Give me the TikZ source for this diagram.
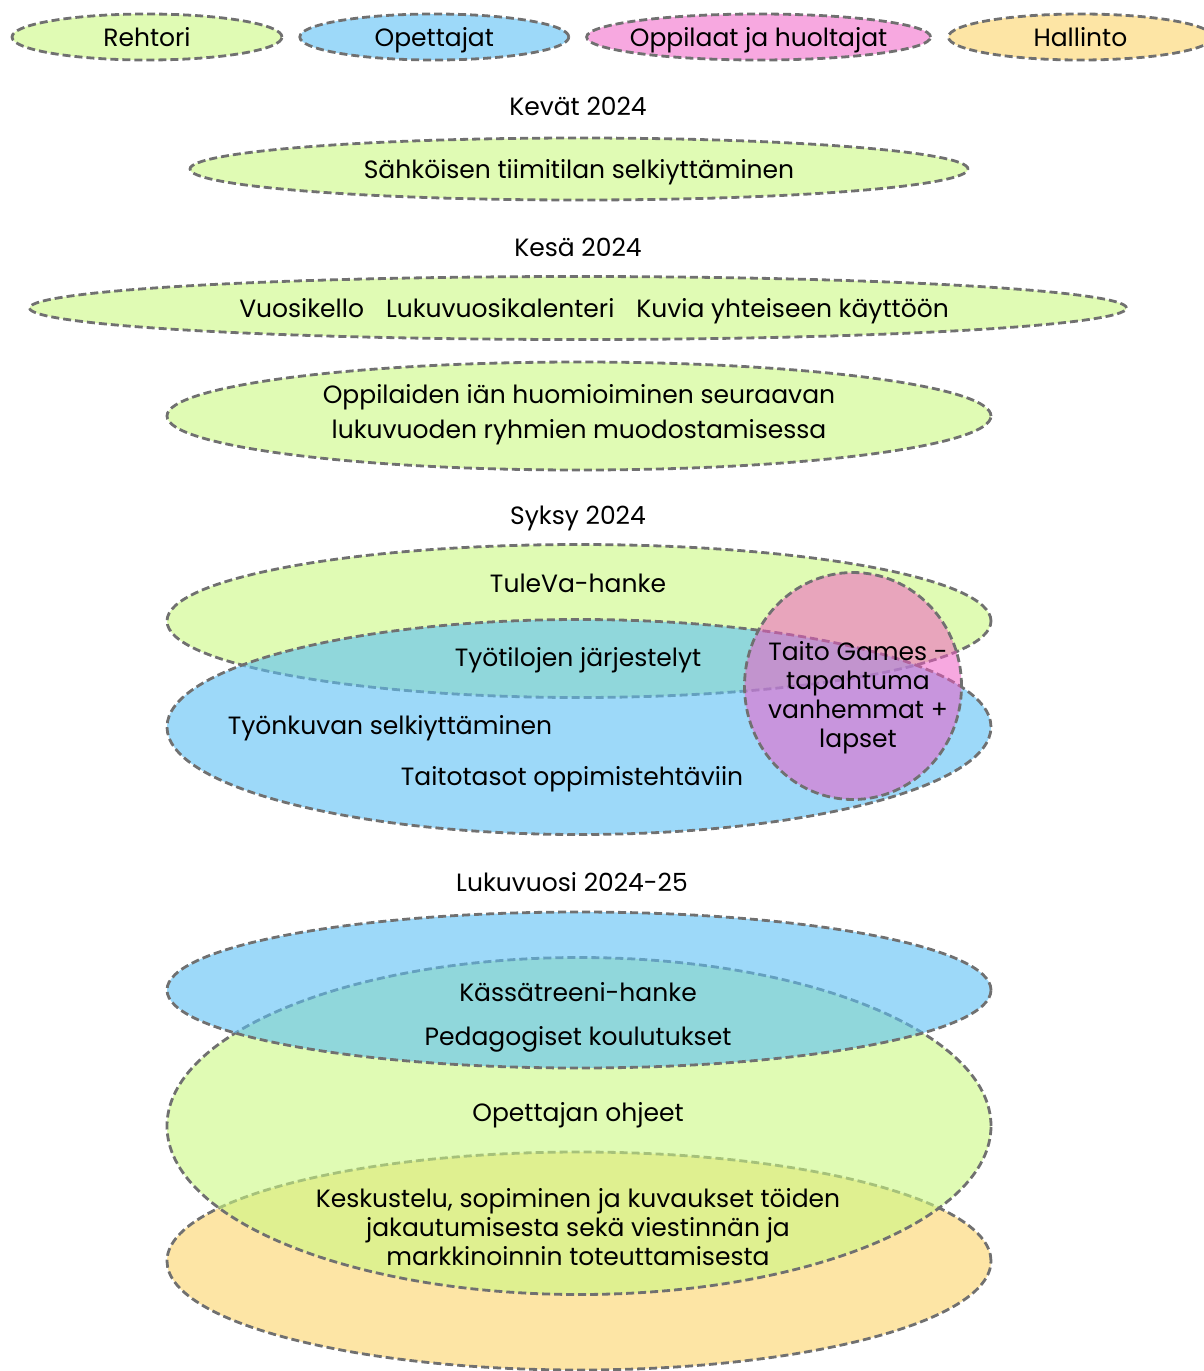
\documentclass[tikz,border=0pt]{standalone}
\usepackage{fontspec}
\setmainfont{Poppins}
\usepackage{tikz}
\usetikzlibrary{positioning}
\usetikzlibrary{shapes}
\definecolor{ovalgray}{HTML}{707070}
\definecolor{rehtorigreen}{HTML}{CBF882}
\definecolor{opeblue}{HTML}{5CC0F5}
\definecolor{oppipink}{HTML}{F058C4}
\definecolor{hallyellow}{HTML}{FDE5A5}
\tikzstyle{oval}=[ellipse,inner sep=0pt,draw=ovalgray,line width=2.8pt,dash pattern=on 8pt off 4pt,text opacity=1,font=\fontsize{25}{29}\selectfont,text height=22pt,text depth=3pt]
\tikzstyle{rehtori}=[oval,fill=rehtorigreen,fill opacity=0.6]
\tikzstyle{ope}=[oval,fill=opeblue,fill opacity=0.6]
\tikzstyle{oppi}=[oval,fill=oppipink,fill opacity=0.52]
\tikzstyle{hall}=[oval,fill=hallyellow]
\tikzstyle{legend}=[inner xsep=-25pt,minimum height=46pt]
\tikzstyle{lbl}=[inner sep=0pt,align=center,font=\fontsize{25}{29}\selectfont,text height=22pt,text depth=3pt]
\tikzstyle{lines}=[inner sep=0pt,align=center]

\begin{document}
\begin{tikzpicture}[x=1pt,y=-1pt]
				\useasboundingbox (0,0) rectangle (1203,1371);
				
				% roolit
				\node [rehtori, legend, minimum width=270pt] (rehtori) at (147,37) {Rehtori};
				\node [ope, legend, minimum width=269pt, right=15pt of rehtori] (ope) {Opettajat};
				\node [oppi, legend, minimum width=344pt, right=15pt of ope] (oppi) {Oppilaat ja huoltajat};
				\node [hall, legend, minimum width=264pt, right=15pt of oppi] (hall) {Hallinto};
				
				% kevat ja kesa
				\node [lbl] (kevat) at (578,106) {Kevät 2024};
				\node [rehtori, minimum width=778pt, minimum height=62pt] (tiimi) at (579,169) {Sähköisen tiimitilan selkiyttäminen};
				\node [lbl] (kesa) at (578,247) {Kesä 2024};
				\node [rehtori, minimum width=1097pt, minimum height=63pt] (vuosi) at (578,308) {};
				\node [lbl] (vuosit) at (594,308) {Vuosikello\hspace{22pt}Lukuvuosikalenteri\hspace{22pt}Kuvia yhteiseen käyttöön};
				\node [rehtori, minimum width=824pt, minimum height=108pt] (ika) at (579,416) {};
				\node [lines, font=\fontsize{25}{35}\selectfont] (ikat) at (579,415) {Oppilaiden iän huomioiminen seuraavan\\lukuvuoden ryhmien muodostamisessa};
				
				% syksy
				\node [lbl] (syksy) at (578,515) {Syksy 2024};
				\node [rehtori, minimum width=824pt, minimum height=153pt] (tuleva) at (579,621) {};
				\node [ope, minimum width=824pt, minimum height=215pt] (tyo) at (579,727) {};
				\node [oppi, minimum width=217pt, minimum height=227pt] (taito) at (853,686) {};
				\node [lbl] (tulevat) at (578,583) {TuleVa-hanke};
				\node [lbl] (tilat) at (578,657) {Työtilojen järjestelyt};
				\node [lbl] (kuva) at (390,725) {Työnkuvan selkiyttäminen};
				\node [lbl] (tasot) at (572,776) {Taitotasot oppimistehtäviin};
				\node [lines, font=\fontsize{25}{29}\selectfont] (games) at (858,698) {Taito Games -\\tapahtuma\\vanhemmat +\\lapset};
				
				% lukuvuosi
				\node [lbl] (lukuvuosi) at (572,882) {Lukuvuosi 2024-25};
				\node [hall, minimum width=824pt, minimum height=218pt] (viesti) at (579,1261) {};
				\node [rehtori, minimum width=824pt, minimum height=337pt] (ohje) at (579,1126) {};
				\node [ope, minimum width=824pt, minimum height=156pt] (kassa) at (579,990) {};
				\node [lbl] (kassat) at (578,992) {Kässätreeni-hanke};
				\node [lbl] (pedat) at (578,1036) {Pedagogiset koulutukset};
				\node [lbl] (ohjet) at (578,1112) {Opettajan ohjeet};
				\node [lines, font=\fontsize{25}{29}\selectfont] (keskut) at (578,1227) {Keskustelu, sopiminen ja kuvaukset töiden\\jakautumisesta sekä viestinnän ja\\markkinoinnin toteuttamisesta};
				
				\end{tikzpicture}
\end{document}
